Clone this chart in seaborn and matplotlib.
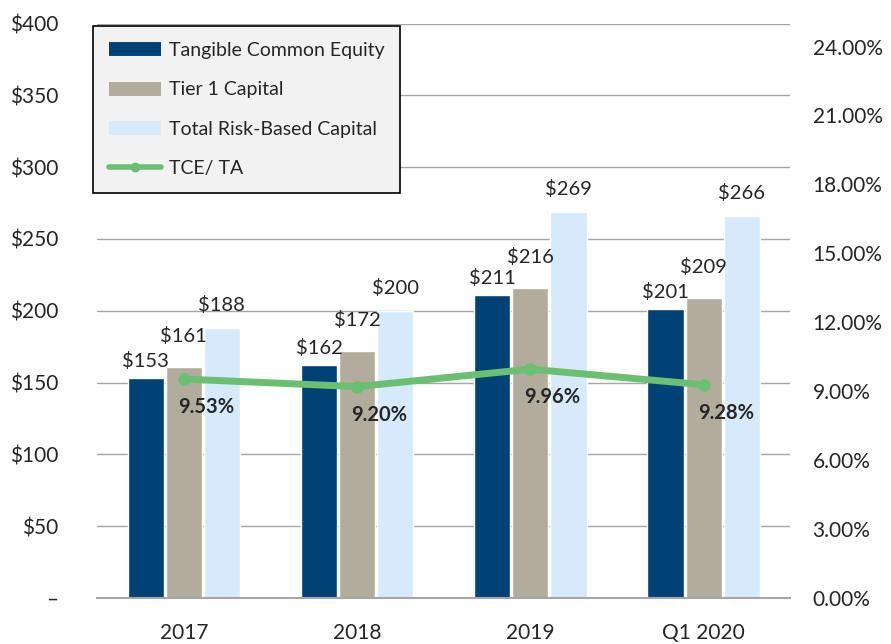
import pandas as pd
import seaborn as sns
import matplotlib.pyplot as plt
from matplotlib.lines import Line2D
from matplotlib.ticker import FuncFormatter
import matplotlib.transforms as mtransforms

periods = ['2017', '2018', '2019', 'Q1 2020']
tce = [153, 162, 211, 201]
tier1 = [161, 172, 216, 209]
total_rbc = [188, 200, 269, 266]
tce_ta = [9.53, 9.20, 9.96, 9.28]

series_names = ['Tangible Common Equity', 'Tier 1 Capital', 'Total Risk-Based Capital']
colors = ['#004276', '#B2AC9C', '#D6EAFB']

df = pd.DataFrame({'Period': periods, series_names[0]: tce,
                   series_names[1]: tier1, series_names[2]: total_rbc})
long = df.melt(id_vars='Period', var_name='Series', value_name='Value')

sns.set_style('white')
plt.rcParams['font.family'] = ['Lato', 'DejaVu Sans']

fig = plt.figure(figsize=(8.91, 6.44), dpi=100)
ax = fig.add_axes([0.109, 0.0714, 0.778, 0.892])

sns.barplot(data=long, x='Period', y='Value', hue='Series', palette=colors,
            width=0.66, gap=0.05, ax=ax, legend=False, saturation=1)

ax.set_ylim(0, 400)
ax.set_xlim(-0.5, 3.5)
ax.set_yticks(range(0, 401, 50))
ax.yaxis.set_major_formatter(FuncFormatter(lambda v, p: '–' if v == 0 else f'${v:.0f}'))
ax.yaxis.grid(True, color='#A6A6A6', lw=1)
ax.set_axisbelow(True)
for s in ['top', 'right', 'left']:
    ax.spines[s].set_visible(False)
ax.spines['bottom'].set_color('#A6A6A6')
ax.spines['bottom'].set_linewidth(1.5)
ax.set_xlabel('')
ax.set_ylabel('')
ax.tick_params(axis='y', labelsize=15, length=0, pad=28)
ax.tick_params(axis='x', labelsize=15, length=0, pad=18)

# label offsets per series (px): Excel-style manual placement
shifts = [-14, -6, 0]
pads = [6, 16, 10]
for cont, dx, pd_ in zip(ax.containers, shifts, pads):
    labels = ax.bar_label(cont, labels=[f'${v:.0f}' for v in cont.datavalues],
                          padding=pd_, fontsize=14.5)
    for t in labels:
        t.set_transform(t.get_transform() + mtransforms.ScaledTranslation(dx / 100, 0, fig.dpi_scale_trans))

ax2 = ax.twinx()
sns.lineplot(x=list(range(len(periods))), y=tce_ta, ax=ax2, color='#6BBF73',
             lw=5, marker='o', markersize=9, markeredgewidth=0, legend=False)
ax2.set_ylim(0, 25)
ax2.set_yticks(range(0, 25, 3))
ax2.yaxis.set_major_formatter(FuncFormatter(lambda v, p: f'{v:.2f}%'))
ax2.tick_params(axis='y', labelsize=15, length=0, pad=16)
for s in ax2.spines.values():
    s.set_visible(False)
for i, v in enumerate(tce_ta):
    ax2.annotate(f'{v:.2f}%', (i, v), xytext=(16, -13), textcoords='offset points',
                 ha='center', va='top', fontsize=14.5, fontweight='bold')

handles = [Line2D([0], [0], color=c, lw=10, solid_capstyle='butt') for c in colors]
handles.append(Line2D([0], [0], color='#6BBF73', lw=4, marker='o', markersize=6))
leg = ax.legend(handles, series_names + ['TCE/ TA'], loc='upper left',
                bbox_to_anchor=(-0.006, 0.995), borderaxespad=0, fontsize=14,
                frameon=True, fancybox=False, edgecolor='black', facecolor='#F2F2F2',
                labelspacing=1.15, handlelength=2.7, handletextpad=0.4,
                borderpad=0.8, framealpha=1)
leg.get_frame().set_linewidth(1.2)
leg.set_zorder(5)

fig.savefig('out.png', dpi=100)
